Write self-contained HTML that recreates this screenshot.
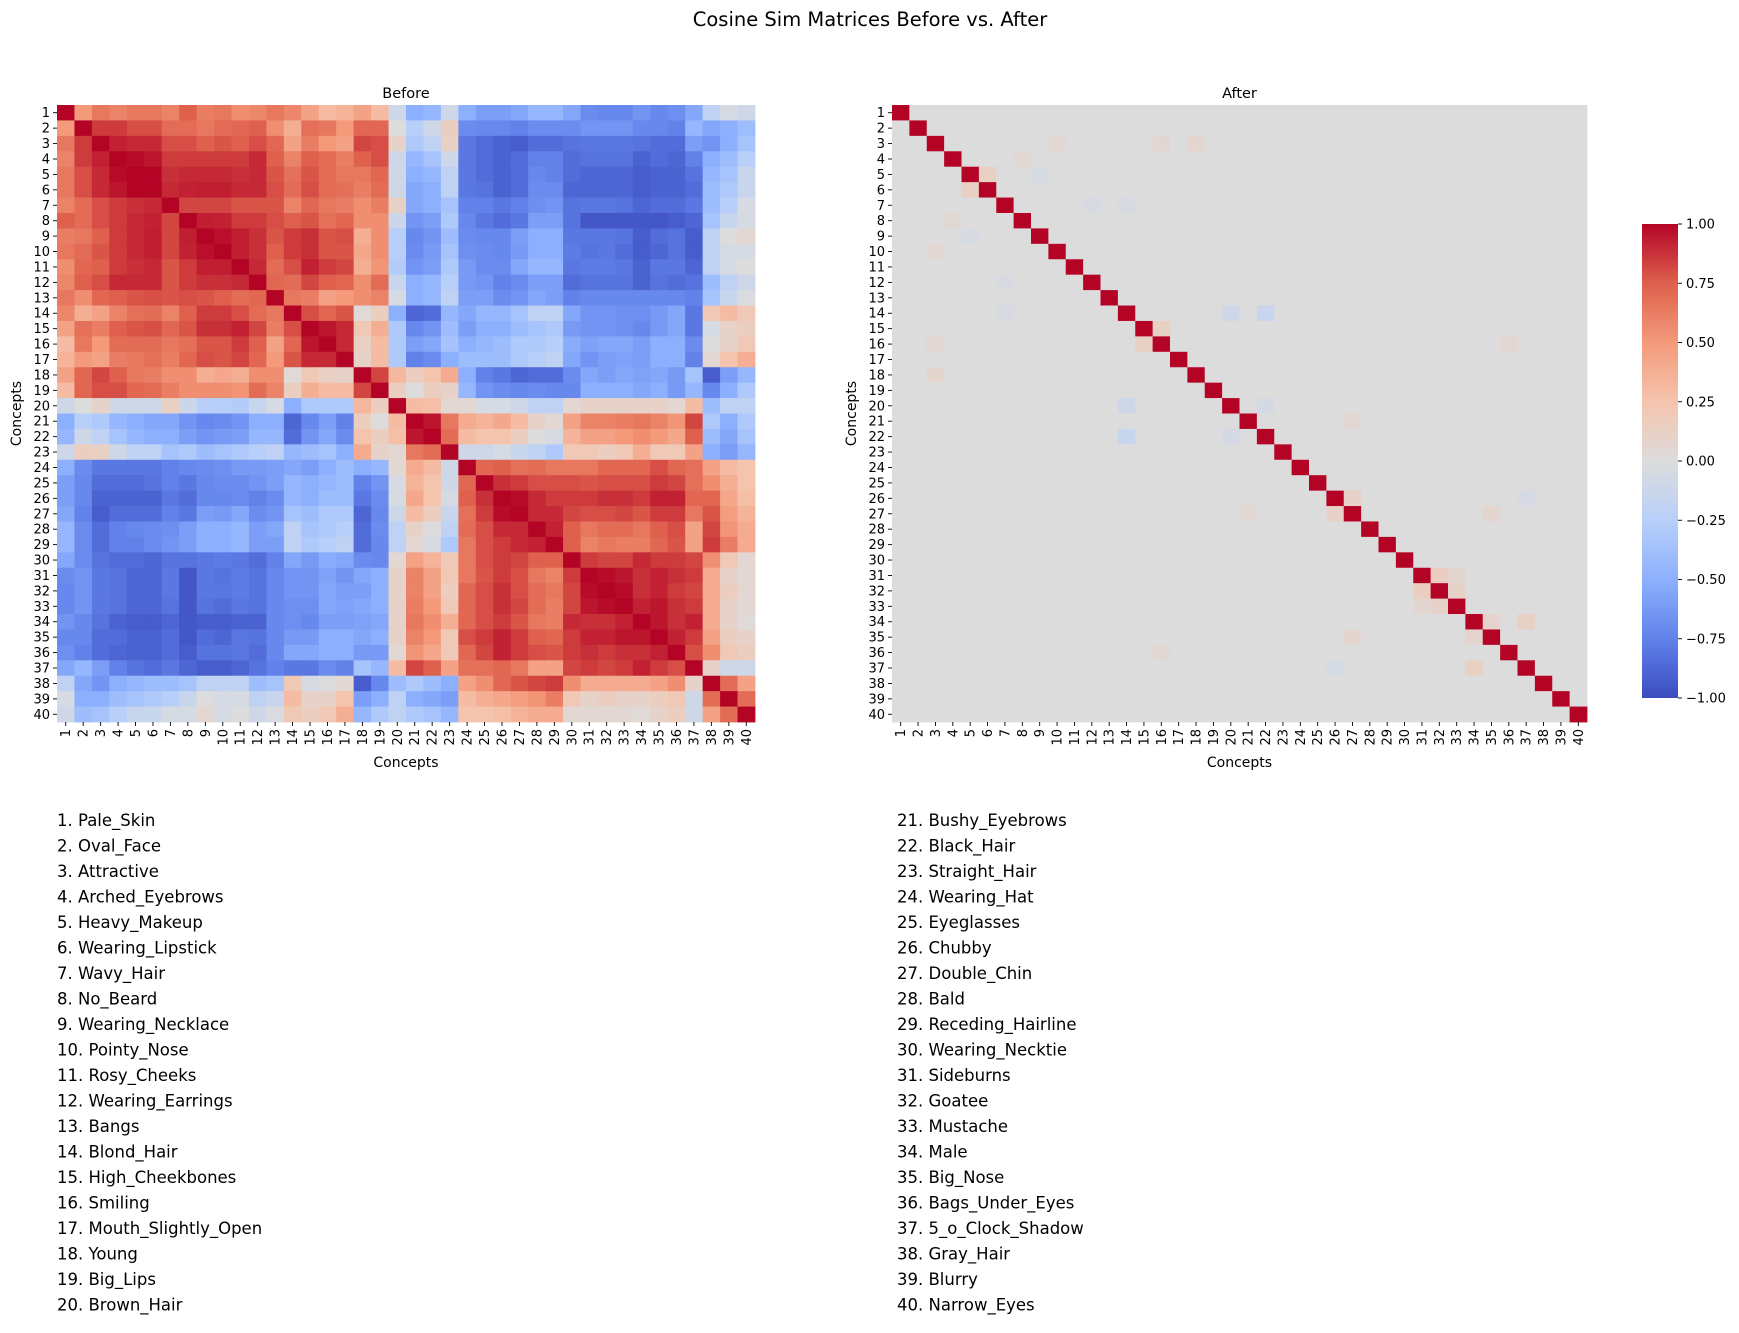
<!DOCTYPE html>
<html><head><meta charset="utf-8">
<style>
body{margin:0;background:#fff;}
svg text{font-family:"DejaVu Sans","Liberation Sans",sans-serif;fill:#000;}
</style></head>
<body>
<svg id="fig" width="1739" height="1328" xmlns="http://www.w3.org/2000/svg">
<text x="870" y="26" font-size="19.5" text-anchor="middle">Cosine Sim Matrices Before vs. After</text>
</svg>
<script>
const concepts = ["Pale_Skin","Oval_Face","Attractive","Arched_Eyebrows","Heavy_Makeup","Wearing_Lipstick","Wavy_Hair","No_Beard","Wearing_Necklace","Pointy_Nose","Rosy_Cheeks","Wearing_Earrings","Bangs","Blond_Hair","High_Cheekbones","Smiling","Mouth_Slightly_Open","Young","Big_Lips","Brown_Hair","Bushy_Eyebrows","Black_Hair","Straight_Hair","Wearing_Hat","Eyeglasses","Chubby","Double_Chin","Bald","Receding_Hairline","Wearing_Necktie","Sideburns","Goatee","Mustache","Male","Big_Nose","Bags_Under_Eyes","5_o_Clock_Shadow","Gray_Hair","Blurry","Narrow_Eyes"];
const colorbarTicks = [1.00,0.75,0.50,0.25,0.00,-0.25,-0.50,-0.75,-1.00];
// lower triangle of "Before" matrix, row i holds cols 1..i-1
const beforeLower = [
[],
[0.5],
[0.65,0.85],
[0.6,0.85,0.92],
[0.65,0.8,0.9,0.98],
[0.65,0.8,0.9,0.95,1.0],
[0.6,0.7,0.8,0.85,0.88,0.9],
[0.75,0.7,0.8,0.85,0.9,0.92,0.82],
[0.62,0.65,0.75,0.85,0.9,0.93,0.82,0.93],
[0.65,0.7,0.78,0.85,0.9,0.93,0.82,0.92,0.97],
[0.55,0.72,0.75,0.85,0.88,0.9,0.78,0.85,0.93,0.93],
[0.58,0.75,0.8,0.9,0.9,0.9,0.78,0.85,0.88,0.88,0.9],
[0.65,0.55,0.72,0.75,0.78,0.8,0.78,0.8,0.78,0.75,0.7,0.72],
[0.58,0.38,0.45,0.6,0.68,0.7,0.6,0.75,0.85,0.85,0.8,0.7,0.65],
[0.45,0.68,0.62,0.75,0.78,0.8,0.72,0.78,0.88,0.88,0.92,0.82,0.62,0.8],
[0.3,0.65,0.5,0.7,0.7,0.7,0.65,0.68,0.78,0.78,0.85,0.75,0.45,0.72,0.95],
[0.35,0.5,0.45,0.62,0.65,0.68,0.62,0.72,0.8,0.78,0.82,0.72,0.5,0.78,0.9,0.9],
[0.45,0.72,0.82,0.75,0.65,0.62,0.55,0.55,0.38,0.42,0.38,0.55,0.55,0.02,0.2,0.12,0.1],
[0.3,0.72,0.8,0.8,0.72,0.7,0.62,0.55,0.55,0.55,0.52,0.7,0.6,0.15,0.38,0.3,0.3,0.82],
[-0.1,0.0,0.1,-0.1,-0.1,-0.1,0.12,-0.12,-0.25,-0.25,-0.28,-0.15,-0.05,-0.5,-0.3,-0.3,-0.3,0.32,0.15],
[-0.5,-0.25,-0.3,-0.45,-0.5,-0.55,-0.55,-0.65,-0.72,-0.7,-0.65,-0.5,-0.5,-0.88,-0.72,-0.6,-0.75,0.15,0.0,0.3],
[-0.45,-0.1,-0.2,-0.35,-0.45,-0.5,-0.5,-0.6,-0.65,-0.62,-0.6,-0.45,-0.45,-0.85,-0.65,-0.55,-0.7,0.25,0.15,0.28,0.95],
[-0.1,0.15,0.12,-0.1,-0.2,-0.2,-0.35,-0.3,-0.4,-0.35,-0.3,-0.25,-0.2,-0.45,-0.4,-0.35,-0.5,0.4,0.1,0.05,0.65,0.7],
[-0.5,-0.7,-0.8,-0.8,-0.8,-0.8,-0.75,-0.72,-0.7,-0.68,-0.62,-0.62,-0.6,-0.55,-0.6,-0.5,-0.4,-0.5,-0.45,0.05,0.4,0.3,-0.1],
[-0.6,-0.72,-0.85,-0.85,-0.85,-0.82,-0.75,-0.8,-0.72,-0.7,-0.7,-0.65,-0.6,-0.45,-0.5,-0.45,-0.4,-0.75,-0.65,-0.05,0.35,0.25,-0.1,0.72],
[-0.6,-0.72,-0.9,-0.9,-0.9,-0.9,-0.8,-0.85,-0.72,-0.72,-0.7,-0.75,-0.7,-0.45,-0.5,-0.4,-0.4,-0.8,-0.7,-0.05,0.42,0.25,-0.05,0.75,0.88],
[-0.55,-0.75,-0.92,-0.85,-0.85,-0.85,-0.75,-0.8,-0.6,-0.62,-0.55,-0.7,-0.65,-0.35,-0.4,-0.3,-0.3,-0.88,-0.72,-0.1,0.3,0.15,-0.15,0.68,0.85,0.98],
[-0.45,-0.7,-0.85,-0.75,-0.72,-0.7,-0.68,-0.6,-0.5,-0.5,-0.45,-0.6,-0.55,-0.2,-0.35,-0.3,-0.25,-0.85,-0.7,-0.2,0.1,0.0,-0.2,0.7,0.8,0.9,0.9],
[-0.45,-0.7,-0.85,-0.75,-0.75,-0.7,-0.65,-0.6,-0.5,-0.5,-0.45,-0.6,-0.6,-0.2,-0.3,-0.25,-0.2,-0.85,-0.72,-0.2,0.05,-0.05,-0.3,0.65,0.8,0.85,0.9,0.92],
[-0.55,-0.7,-0.82,-0.85,-0.85,-0.88,-0.82,-0.82,-0.8,-0.78,-0.8,-0.85,-0.75,-0.55,-0.62,-0.52,-0.55,-0.7,-0.72,0.05,0.45,0.35,0.2,0.65,0.8,0.85,0.82,0.75,0.75],
[-0.7,-0.65,-0.8,-0.82,-0.88,-0.88,-0.8,-0.95,-0.8,-0.82,-0.78,-0.82,-0.72,-0.65,-0.65,-0.58,-0.65,-0.55,-0.5,0.1,0.6,0.45,0.2,0.65,0.78,0.85,0.8,0.65,0.6,0.85],
[-0.72,-0.65,-0.8,-0.82,-0.88,-0.88,-0.8,-0.95,-0.8,-0.8,-0.78,-0.82,-0.72,-0.65,-0.65,-0.55,-0.6,-0.6,-0.5,0.1,0.6,0.45,0.15,0.72,0.8,0.88,0.8,0.7,0.65,0.82,0.98],
[-0.72,-0.65,-0.8,-0.82,-0.88,-0.88,-0.82,-0.95,-0.82,-0.85,-0.8,-0.82,-0.72,-0.68,-0.68,-0.55,-0.58,-0.55,-0.5,0.1,0.62,0.5,0.2,0.72,0.8,0.88,0.82,0.7,0.62,0.82,0.95,0.98],
[-0.65,-0.72,-0.82,-0.9,-0.92,-0.92,-0.88,-0.95,-0.92,-0.92,-0.9,-0.9,-0.72,-0.68,-0.72,-0.6,-0.6,-0.58,-0.55,0.1,0.65,0.55,0.38,0.72,0.8,0.85,0.78,0.65,0.62,0.9,0.88,0.88,0.92],
[-0.72,-0.72,-0.85,-0.85,-0.9,-0.9,-0.85,-0.95,-0.85,-0.88,-0.8,-0.82,-0.72,-0.62,-0.62,-0.5,-0.5,-0.55,-0.5,0.1,0.6,0.5,0.2,0.8,0.85,0.92,0.85,0.75,0.72,0.85,0.92,0.92,0.95,0.95],
[-0.68,-0.75,-0.85,-0.88,-0.9,-0.9,-0.85,-0.92,-0.82,-0.82,-0.8,-0.85,-0.72,-0.55,-0.55,-0.5,-0.5,-0.62,-0.62,0.05,0.52,0.42,0.2,0.72,0.82,0.92,0.85,0.8,0.78,0.85,0.88,0.85,0.88,0.88,0.92],
[-0.55,-0.45,-0.6,-0.75,-0.82,-0.85,-0.8,-0.88,-0.92,-0.92,-0.88,-0.82,-0.75,-0.8,-0.8,-0.7,-0.75,-0.35,-0.45,0.3,0.82,0.75,0.45,0.68,0.68,0.72,0.65,0.45,0.45,0.82,0.85,0.82,0.85,0.92,0.85,0.8],
[-0.2,-0.55,-0.65,-0.5,-0.45,-0.4,-0.4,-0.35,-0.2,-0.2,-0.2,-0.4,-0.35,0.2,-0.05,0.0,0.05,-0.92,-0.72,-0.4,-0.3,-0.4,-0.5,0.45,0.55,0.72,0.78,0.82,0.85,0.55,0.4,0.4,0.4,0.4,0.45,0.55,0.1],
[-0.05,-0.5,-0.5,-0.4,-0.35,-0.3,-0.25,-0.15,0.0,-0.05,-0.05,-0.2,-0.15,0.3,0.1,0.1,0.25,-0.6,-0.5,-0.2,-0.5,-0.55,-0.6,0.3,0.38,0.42,0.48,0.52,0.62,0.2,0.1,0.15,0.1,0.1,0.15,0.2,-0.1,0.7],
[-0.1,-0.4,-0.35,-0.25,-0.15,-0.15,-0.05,-0.05,0.05,-0.05,0.0,-0.1,-0.02,0.2,0.15,0.2,0.38,-0.45,-0.3,-0.2,-0.3,-0.35,-0.45,0.25,0.25,0.28,0.35,0.4,0.4,0.05,0.05,0.05,0.05,0.02,0.1,0.15,-0.1,0.45,0.7]
];
// "After" off-diagonal small values: [row, col, value] (1-based), mirrored
const afterRows = [14,14,15,26,31,32,34,5,3,3,34,4,7,9,10,20,37,35,33,21,12,36];
const afterCols = [20,22,16,27,32,33,37,6,16,18,35,8,14,5,3,22,26,27,31,27,7,16];
const afterVals = [-0.1,-0.15,0.12,0.1,0.15,0.1,0.12,0.12,0.06,0.07,0.08,0.04,-0.04,-0.05,0.05,-0.06,-0.05,0.07,0.06,0.04,-0.04,0.05];

const N = concepts.length;
function fullBefore(i,j){ if(i===j) return 1; return i>j ? beforeLower[i][j] : beforeLower[j][i]; }
function fullAfter(i,j){
  if(i===j) return 1;
  for(let k=0;k<afterRows.length;k++){
    const r=afterRows[k]-1,c=afterCols[k]-1;
    if((r===i&&c===j)||(r===j&&c===i)) return afterVals[k];
  }
  return 0.0;
}
const cwStops=[[-1,[59,76,192]],[-0.75,[98,130,234]],[-0.5,[141,176,254]],[-0.25,[184,208,249]],[0,[221,220,220]],[0.25,[245,196,173]],[0.5,[244,154,123]],[0.75,[222,96,77]],[1,[180,4,38]]];
function cw(v){
  v=Math.max(-1,Math.min(1,v));
  for(let k=0;k<cwStops.length-1;k++){
    const a=cwStops[k],b=cwStops[k+1];
    if(v<=b[0]){const t=(v-a[0])/(b[0]-a[0]);
      const c=a[1].map((x,idx)=>Math.round(x+(b[1][idx]-x)*t));
      return `rgb(${c[0]},${c[1]},${c[2]})`;}
  }
  return 'rgb(180,4,38)';
}
const NS='http://www.w3.org/2000/svg';
const svg=document.getElementById('fig');
function el(tag,attrs,parent){const e=document.createElementNS(NS,tag);for(const k in attrs)e.setAttribute(k,attrs[k]);(parent||svg).appendChild(e);return e;}

function heatmap(x0,y0,w,h,fn,title,key){
  const g=el('g',{});
  
  
  const cw_=w/N, ch=h/N;
  const xs=i=>x0+i*cw_, ys=i=>y0+i*ch;
  for(let i=0;i<N;i++)for(let j=0;j<N;j++){
    const r=el('rect',{x:xs(j).toFixed(2),y:ys(i).toFixed(2),width:(cw_+0.4).toFixed(2),height:(ch+0.4).toFixed(2),fill:cw(fn(i,j))},g);
    
    
  }
  const t=el('text',{x:x0+w/2,y:y0-7,'font-size':14.5,'text-anchor':'middle'});
  t.textContent=title;
  
  
  for(let i=0;i<N;i++){
    const cy=ys(i)+ch/2;
    el('line',{x1:x0-4,x2:x0,y1:cy,y2:cy,stroke:'#000','stroke-width':0.9});
    const yt=el('text',{x:x0-7,y:cy+4.5,'font-size':13,'text-anchor':'end'});
    yt.textContent=String(i+1);
    
    
    const cx=xs(i)+cw_/2;
    el('line',{x1:cx,x2:cx,y1:y0+h,y2:y0+h+4,stroke:'#000','stroke-width':0.9});
    const xt=el('text',{x:0,y:0,'font-size':13,'text-anchor':'end',transform:`translate(${cx+4.5},${y0+h+7}) rotate(-90)`});
    xt.textContent=String(i+1);
    
    
  }
  const xl=el('text',{x:x0+w/2,y:y0+h+45,'font-size':14,'text-anchor':'middle'});
  xl.textContent='Concepts';
  
  
  const yl=el('text',{x:0,y:0,'font-size':14,'text-anchor':'middle',transform:`translate(${x0-36},${y0+h/2}) rotate(-90)`});
  yl.textContent='Concepts';
  
  
}
heatmap(57,105,698,617,fullBefore,'Before','before');
heatmap(892,105,695,617,fullAfter,'After','after');

const cbX=1642,cbY=224,cbW=36,cbH=474;
const grad=el('defs',{});
const lg=el('linearGradient',{id:'cwg',x1:0,y1:1,x2:0,y2:0},grad);
for(let k=0;k<=40;k++){const v=-1+k/20;el('stop',{offset:(k/40),'stop-color':cw(v)},lg);}
const cb=el('rect',{x:cbX,y:cbY,width:cbW,height:cbH,fill:'url(#cwg)'});


const cbScale=v=>cbY+(1-v)/2*cbH;
colorbarTicks.forEach(v=>{
  const y=cbScale(v);
  el('line',{x1:cbX+cbW,x2:cbX+cbW+4,y1:y,y2:y,stroke:'#000','stroke-width':0.9});
  const t=el('text',{x:cbX+cbW+8,y:y+4.5,'font-size':13});
  t.textContent=(v<0?'\u2212':'')+Math.abs(v).toFixed(2);
  
  
});

concepts.forEach((c,i)=>{
  const col=i<20?0:1, row=i%20;
  const t=el('text',{x:col?897:57,y:826+row*25.5,'font-size':16.5});
  t.textContent=(i+1)+'. '+c;
  
  
});
</script>
</body></html>
